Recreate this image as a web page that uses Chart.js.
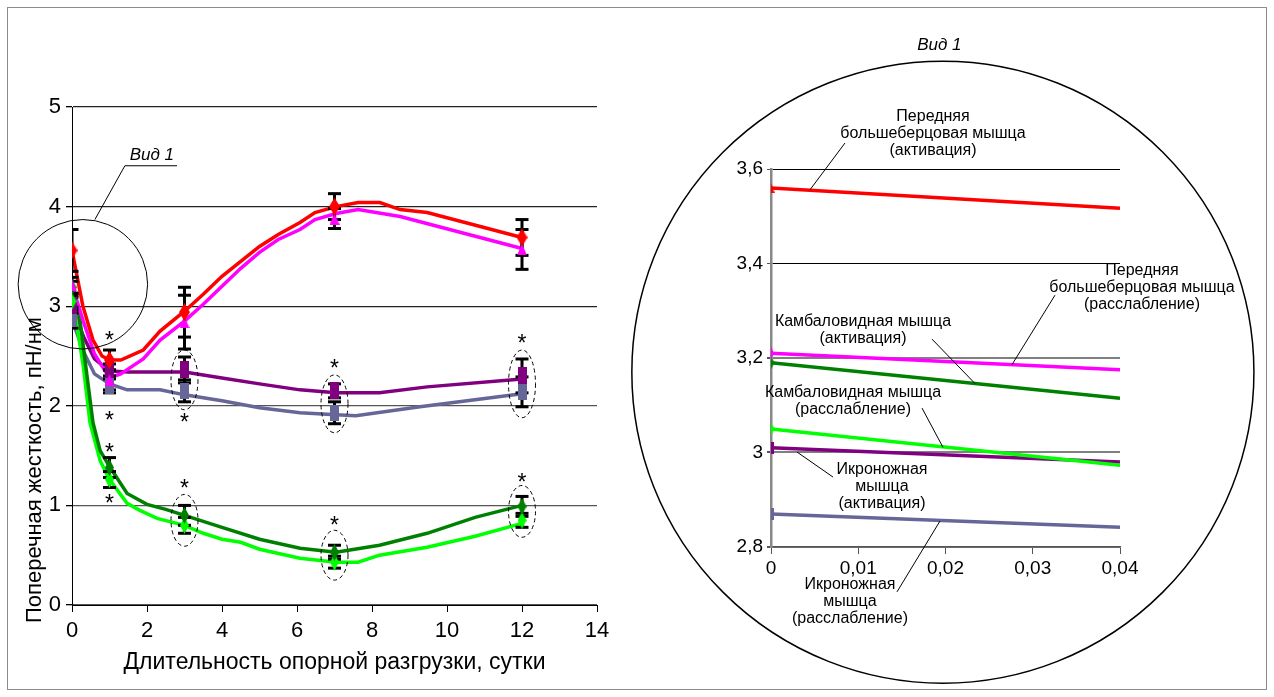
<!DOCTYPE html>
<html>
<head>
<meta charset="utf-8">
<script src="https://cdn.jsdelivr.net/npm/chart.js@4.4.1/dist/chart.umd.min.js"></script>
<style>
  html, body { margin: 0; padding: 0; background: #fff; }
  #frame { position: absolute; left: 7px; top: 7px; width: 1258px; height: 681px; border: 1px solid #8c8c8c; }
  #left { position: absolute; left: 0; top: 0; }
  #right { position: absolute; left: 630px; top: 0; }
</style>
</head>
<body>
<div id="frame"></div>
<canvas id="left" width="640" height="697"></canvas>
<canvas id="right" width="644" height="697"></canvas>
<script>
// ---- measured points: days of unloading ----
const days = [0, 1, 3, 7, 12];

// mean transverse stiffness, pN/nm
const taAct  = [3.56, 2.46, 2.94, 4.00, 3.69];   // tibialis anterior, activation
const taRel  = [3.21, 2.26, 2.84, 3.88, 3.57];   // tibialis anterior, relaxation
const solAct = [3.19, 1.38, 0.90, 0.53, 0.99];   // soleus, activation
const solRel = [3.05, 1.26, 0.80, 0.43, 0.85];   // soleus, relaxation
const gasAct = [3.01, 2.36, 2.36, 2.15, 2.30];   // gastrocnemius, activation
const gasRel = [2.87, 2.20, 2.15, 1.93, 2.14];   // gastrocnemius, relaxation

// standard errors
const taActErr  = [0.21, 0.10, 0.25, 0.13, 0.18];
const taRelErr  = [0.08, 0.10, 0.27, 0.10, 0.20];
const solActErr = [0.06, 0.10, 0.10, 0.07, 0.10];
const solRelErr = [0.06, 0.08, 0.08, 0.06, 0.07];
const gasActErr = [0.08, 0.06, 0.13, 0.07, 0.17];
const gasRelErr = [0.09, 0.07, 0.11, 0.11, 0.15];

// trend curves (vertices of the drawn curves)
const taActCurveX  = [0, 0.29, 0.56, 0.8, 1, 1.3, 1.9, 2.35, 3, 3.5, 4, 4.5, 5, 5.5, 6.08, 6.48, 7.04, 7.63, 8.21, 8.75, 9.47, 12];
const taActCurveY  = [3.56, 3.0, 2.66, 2.5, 2.46, 2.46, 2.56, 2.75, 2.95, 3.12, 3.3, 3.45, 3.6, 3.72, 3.84, 3.94, 4.0, 4.04, 4.04, 3.97, 3.94, 3.69];
const taRelCurveX  = [0, 0.3, 0.6, 1, 1.3, 1.9, 2.35, 3, 3.5, 4, 4.5, 5, 5.5, 6.08, 6.48, 7.04, 7.63, 8.75, 12];
const taRelCurveY  = [3.21, 2.85, 2.52, 2.28, 2.32, 2.47, 2.66, 2.85, 3.02, 3.2, 3.38, 3.54, 3.67, 3.77, 3.87, 3.93, 3.97, 3.9, 3.58];
const solActCurveX = [0, 0.2, 0.4, 0.56, 0.75, 1, 1.47, 2, 2.5, 3, 4, 5, 6.08, 7.04, 8.2, 9.47, 10.75, 12];
const solActCurveY = [3.19, 2.9, 2.3, 1.83, 1.55, 1.39, 1.12, 1.01, 0.96, 0.9, 0.78, 0.66, 0.57, 0.53, 0.6, 0.72, 0.88, 1.0];
const solRelCurveX = [0, 0.08, 0.3, 0.48, 0.75, 1, 1.47, 1.81, 2.27, 3, 3.5, 4, 4.5, 5, 6.08, 7.04, 7.63, 8.2, 9.47, 10.75, 12];
const solRelCurveY = [3.05, 2.93, 2.4, 1.83, 1.45, 1.26, 1.02, 0.95, 0.87, 0.8, 0.72, 0.66, 0.63, 0.56, 0.47, 0.43, 0.43, 0.5, 0.58, 0.69, 0.82];
const gasActCurveX = [0, 0.3, 0.6, 1, 1.5, 3, 4, 5, 6.08, 7.04, 8.2, 9.47, 12];
const gasActCurveY = [3.01, 2.7, 2.47, 2.35, 2.34, 2.34, 2.28, 2.22, 2.16, 2.13, 2.13, 2.19, 2.27];
const gasRelCurveX = [0, 0.3, 0.6, 1, 1.47, 2.35, 3, 4, 5, 6.08, 7.04, 7.57, 9.28, 12];
const gasRelCurveY = [2.87, 2.55, 2.32, 2.22, 2.16, 2.16, 2.11, 2.05, 1.98, 1.93, 1.91, 1.9, 1.99, 2.12];

// enlarged view "Вид 1": the first 0.04 day of each curve
const insetX = [0, 0.04];
const taActInsetEnd  = 3.517;
const taRelInsetEnd  = 3.175;
const solActInsetEnd = 3.115;
const solRelInsetEnd = 2.973;
const gasActInsetEnd = 2.980;
const gasRelInsetEnd = 2.842;

// axis ticks
const leftXTicks = [0, 2, 4, 6, 8, 10, 12, 14];
const leftYTicks = [0, 1, 2, 3, 4, 5];
const insetXTicks = [0, 0.01, 0.02, 0.03, 0.04];
const insetYTicks = [2.8, 3.0, 3.2, 3.4, 3.6];

// significance marks (day, value) and dashed groupings (day, centre value, half-height)
const starMarks = [[1, 2.71], [1, 1.91], [1, 1.59], [1, 1.07], [3, 1.89], [3, 1.22], [7, 2.43], [7, 0.85], [12, 2.68], [12, 1.29]];
const groupRings = [[3, 2.26, 0.30], [3, 0.85, 0.26], [7, 2.02, 0.29], [7, 0.50, 0.25], [12, 2.22, 0.34], [12, 0.94, 0.26]];

// callouts of the enlarged view: text lines, text centre (x, y), leader from -> to
const insetNotes = [
  { text: ['Передняя', 'большеберцовая мышца', '(активация)'],   at: [0.01857, 3.674], from: [0.00848, 3.655], to: [0.00447, 3.556] },
  { text: ['Передняя', 'большеберцовая мышца', '(расслабление)'], at: [0.04252, 3.350], from: [0.03255, 3.333], to: [0.02762, 3.186] },
  { text: ['Камбаловидная мышца', '(активация)'],                 at: [0.01054, 3.259], from: [0.01845, 3.240], to: [0.02338, 3.146] },
  { text: ['Камбаловидная мышца', '(расслабление)'],              at: [0.00940, 3.108], from: [0.01731, 3.094], to: [0.01971, 3.011] },
  { text: ['Икроножная', 'мышца', '(активация)'],                 at: [0.01272, 2.927], from: [0.00711, 2.948], to: [0.00298, 3.001] },
  { text: ['Икроножная', 'мышца', '(расслабление)'],              at: [0.00905, 2.684], from: [0.01444, 2.705], to: [0.01937, 2.855] }
];

const FONT = "'Liberation Sans', Arial, sans-serif";
Chart.defaults.font.family = FONT;
Chart.defaults.color = '#000';

function markerImage(shape, w, h, color) {
  const c = document.createElement('canvas');
  c.width = w; c.height = h;
  const g = c.getContext('2d');
  g.fillStyle = color;
  g.beginPath();
  if (shape === 'diamond') { g.moveTo(w / 2, 0); g.lineTo(w, h / 2); g.lineTo(w / 2, h); g.lineTo(0, h / 2); }
  else if (shape === 'triangle') { g.moveTo(w / 2, 0); g.lineTo(w, h); g.lineTo(0, h); }
  else { g.rect(0, 0, w, h); }
  g.closePath();
  g.fill();
  return c;
}

const series = [
  { values: gasRel, err: gasRelErr, cx: gasRelCurveX, cy: gasRelCurveY, end: gasRelInsetEnd, color: '#666699', mark: ['rect', 9, 16], small: ['rect', 6, 12] },
  { values: gasAct, err: gasActErr, cx: gasActCurveX, cy: gasActCurveY, end: gasActInsetEnd, color: '#800080', mark: ['rect', 9, 17], small: ['rect', 6, 12] },
  { values: solRel, err: solRelErr, cx: solRelCurveX, cy: solRelCurveY, end: solRelInsetEnd, color: '#00ff00', mark: ['diamond', 9, 17], small: ['diamond', 7, 13] },
  { values: solAct, err: solActErr, cx: solActCurveX, cy: solActCurveY, end: solActInsetEnd, color: '#008000', mark: ['diamond', 9, 17], small: ['diamond', 7, 13] },
  { values: taRel, err: taRelErr, cx: taRelCurveX, cy: taRelCurveY, end: taRelInsetEnd, color: '#ff00ff', mark: ['triangle', 10, 12], small: ['diamond', 6, 13] },
  { values: taAct, err: taActErr, cx: taActCurveX, cy: taActCurveY, end: taActInsetEnd, color: '#ff0000', mark: ['diamond', 11, 18], small: ['triangle', 7, 10] }
];

const zip = (xs, ys) => xs.map((x, i) => ({ x, y: ys[i] }));

// ---- main chart datasets ----
const leftDatasets = [];
series.forEach((s, k) => {
  leftDatasets.push({
    data: zip(s.cx, s.cy), borderColor: s.color, borderWidth: 3.5, pointRadius: 0,
    tension: 0, order: 30 - k
  });
  const bars = [];
  days.forEach((d, i) => {
    bars.push({ x: d, y: s.values[i] - s.err[i] }, { x: d, y: s.values[i] + s.err[i] }, { x: d, y: null });
  });
  leftDatasets.push({
    data: bars, borderColor: '#000', borderWidth: 3, spanGaps: false,
    pointStyle: 'line', pointRadius: 6.5, pointBorderWidth: 3, pointBorderColor: '#000',
    order: 20 - k
  });
  leftDatasets.push({
    data: zip(days, s.values), showLine: false,
    pointStyle: markerImage(s.mark[0], s.mark[1], s.mark[2], s.color), pointRadius: 5,
    order: 10 - k
  });
});

// ---- enlarged view datasets ----
const insetDatasets = [];
series.forEach((s, k) => {
  insetDatasets.push({
    data: zip(insetX, [s.values[0], s.end]), borderColor: s.color, borderWidth: 3.5, tension: 0,
    pointStyle: [markerImage(s.small[0], s.small[1], s.small[2], s.color), false],
    pointRadius: [4, 0], order: 10 - k
  });
});

const leftNotes = {
  id: 'leftNotes',
  afterDatasetsDraw(chart) {
    const { ctx } = chart;
    const xs = chart.scales.x, ys = chart.scales.y;
    const px = v => xs.getPixelForValue(v), py = v => ys.getPixelForValue(v);
    ctx.save();
    ctx.strokeStyle = '#000';
    ctx.lineWidth = 1;
    ctx.setLineDash([4, 3]);
    groupRings.forEach(([d, c, h]) => {
      ctx.beginPath();
      ctx.ellipse(px(d), py(c), px(d + 0.36) - px(d), py(c - h) - py(c), 0, 0, Math.PI * 2);
      ctx.stroke();
    });
    ctx.setLineDash([]);
    // "Вид 1" circle with leader
    ctx.beginPath();
    ctx.arc(px(0.29), py(3.22), py(3.22 - 0.65) - py(3.22), 0, Math.PI * 2);
    ctx.stroke();
    ctx.beginPath();
    ctx.moveTo(px(0.61), py(3.87));
    ctx.lineTo(px(1.41), py(4.41));
    ctx.lineTo(px(2.8), py(4.41));
    ctx.stroke();
    ctx.fillStyle = '#000';
    ctx.font = 'italic 17px ' + FONT;
    ctx.textAlign = 'center';
    ctx.textBaseline = 'middle';
    ctx.fillText('Вид 1', px(2.13), py(4.52));
    // asterisks
    ctx.font = '23px ' + FONT;
    ctx.textBaseline = 'alphabetic';
    starMarks.forEach(([d, v]) => ctx.fillText('*', px(d), py(v) + 13));
    // vertical axis title
    ctx.translate(35, 470);
    ctx.rotate(-Math.PI / 2);
    ctx.font = '22px ' + FONT;
    ctx.textBaseline = 'middle';
    ctx.fillText('Поперечная жесткость, пН/нм', 0, 0);
    ctx.restore();
  }
};

const insetNotesPlugin = {
  id: 'insetNotes',
  afterDatasetsDraw(chart) {
    const { ctx } = chart;
    const xs = chart.scales.x, ys = chart.scales.y;
    const px = v => xs.getPixelForValue(v), py = v => ys.getPixelForValue(v);
    ctx.save();
    ctx.strokeStyle = '#000';
    ctx.fillStyle = '#000';
    // outline of the enlarged view
    ctx.lineWidth = 1.5;
    ctx.beginPath();
    ctx.arc(px(0.0197), py(3.17), px(0.0197 + 0.03565) - px(0.0197), 0, Math.PI * 2);
    ctx.stroke();
    ctx.font = 'italic 17px ' + FONT;
    ctx.textAlign = 'center';
    ctx.textBaseline = 'middle';
    ctx.fillText('Вид 1', px(0.0193), py(3.862));
    ctx.lineWidth = 1;
    ctx.font = '16px ' + FONT;
    insetNotes.forEach(n => {
      const lh = 17;
      const cx = px(n.at[0]), cy = py(n.at[1]);
      const top = cy - (n.text.length - 1) * lh / 2;
      n.text.forEach((t, i) => ctx.fillText(t, cx, top + i * lh));
      ctx.beginPath();
      ctx.moveTo(px(n.from[0]), py(n.from[1]));
      ctx.lineTo(px(n.to[0]), py(n.to[1]));
      ctx.stroke();
    });
    ctx.restore();
  }
};

const fmt = v => Number(v.toFixed(2)).toString().replace('.', ',');

new Chart(document.getElementById('left'), {
  type: 'line',
  data: { datasets: leftDatasets },
  options: {
    responsive: false, animation: false, events: [], devicePixelRatio: 1,
    layout: { padding: { left: 0, right: 43, top: 107, bottom: 12 } },
    plugins: { legend: { display: false }, tooltip: { enabled: false } },
    scales: {
      x: {
        type: 'linear', min: leftXTicks[0], max: leftXTicks[leftXTicks.length - 1],
        afterBuildTicks: s => { s.ticks = leftXTicks.map(v => ({ value: v })); },
        ticks: { font: { size: 22 }, color: '#000', padding: 6, maxRotation: 0 },
        grid: { drawOnChartArea: false, tickLength: 7, tickColor: '#000' },
        border: { color: '#000', width: 1 },
        title: { display: true, text: 'Длительность опорной разгрузки, сутки', font: { size: 23 }, color: '#000', padding: { top: 0, bottom: 9 } },
        afterFit: s => { s.height = 80; }
      },
      y: {
        type: 'linear', min: leftYTicks[0], max: leftYTicks[leftYTicks.length - 1],
        afterBuildTicks: s => { s.ticks = leftYTicks.map(v => ({ value: v })); },
        ticks: { font: { size: 22 }, color: '#000', padding: 5 },
        grid: { color: c => (c.tick && c.tick.value >= 3 ? '#222' : '#555'), lineWidth: 1.3, tickLength: 6, tickColor: '#000' },
        border: { color: '#000', width: 1 },
        afterFit: s => { s.width = 72; }
      }
    }
  },
  plugins: [leftNotes]
});

new Chart(document.getElementById('right'), {
  type: 'line',
  data: { datasets: insetDatasets },
  options: {
    responsive: false, animation: false, events: [], devicePixelRatio: 1,
    layout: { padding: { left: 0, right: 154, top: 169, bottom: 110 } },
    plugins: { legend: { display: false }, tooltip: { enabled: false } },
    scales: {
      x: {
        type: 'linear', min: insetXTicks[0], max: insetXTicks[insetXTicks.length - 1],
        afterBuildTicks: s => { s.ticks = insetXTicks.map(v => ({ value: v })); },
        ticks: { font: { size: 19 }, color: '#000', padding: 3, maxRotation: 0, callback: v => fmt(v) },
        grid: { drawOnChartArea: false, tickLength: 7, tickColor: '#555' },
        border: { color: '#555', width: 1.5 },
        afterFit: s => { s.height = 40; }
      },
      y: {
        type: 'linear', min: insetYTicks[0], max: insetYTicks[insetYTicks.length - 1],
        afterBuildTicks: s => { s.ticks = insetYTicks.map(v => ({ value: v })); },
        ticks: { font: { size: 19 }, color: '#000', padding: 4, callback: v => fmt(v) },
        grid: {
          color: c => (c.tick && c.tick.value > 3.3 ? '#000' : '#808080'),
          lineWidth: c => (c.tick && c.tick.value > 3.3 ? 1 : 2),
          tickLength: 4, tickColor: '#555'
        },
        border: { color: '#888', width: 2.5 },
        afterFit: s => { s.width = 141; }
      }
    }
  },
  plugins: [insetNotesPlugin]
});
</script>
</body>
</html>
